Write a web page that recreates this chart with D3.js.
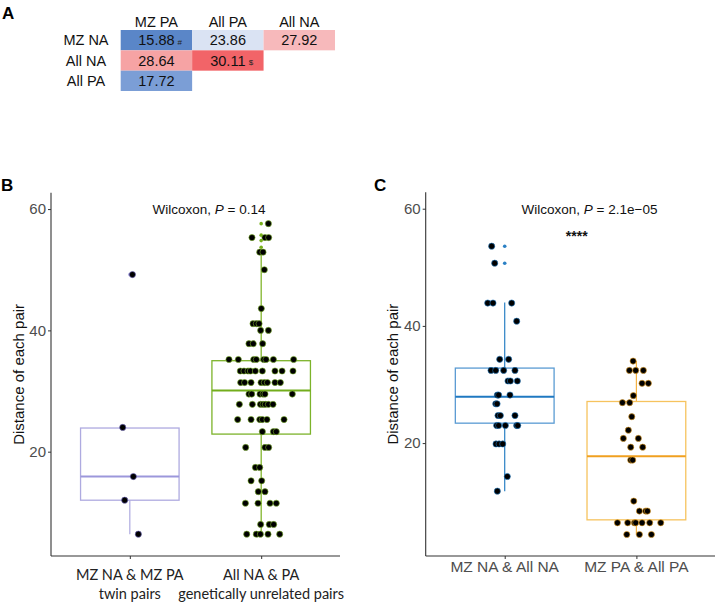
<!DOCTYPE html>
<html><head><meta charset="utf-8">
<script src="https://cdn.jsdelivr.net/npm/d3@7"></script>
<style>body{margin:0;background:#fff}svg{display:block}</style>
</head><body>
<svg id="c" width="715" height="602"></svg>
<script>
// ---------- Panel A data ----------
const tableCols = ["MZ PA", "All PA", "All NA"];
const tableRows = ["MZ NA", "All NA", "All PA"];
const tableValues = [[15.88, 23.86, 27.92], [28.64, 30.11, null], [17.72, null, null]];
const tableMarks = [["#", "", ""], ["", "$", ""], ["", "", ""]];
const tableColors = [["#5a86c8", "#dae3f3", "#f7b9bb"], ["#f6a3a4", "#f26468", null], ["#7b9ed6", null, null]];

// ---------- Panel B data ----------
const catsB = [["MZ NA & MZ PA", "twin pairs"], ["All NA & PA", "genetically unrelated pairs"]];
const yTicks = [20, 40, 60];
// box stats: [whiskerLo, q1, median, q3, whiskerHi]
const boxB = [[6.4, 12.0, 15.9, 23.9, 23.9], [6.3, 22.9, 30.1, 35.0, 52.9]];
const outliersB = [[49.2], [57.6, 55.7, 54.8, 53.7]];
const pointsB1 = [24.0, 15.9, 12.0, 6.4, 49.2];
const jitterB1 = [-0.054, 0.027, -0.039, 0.065, 0.02];
const pointsB2 = [57.6, 55.3, 55.3, 55.3, 52.9, 52.9, 50.0, 43.6, 41.1, 41.1, 41.1, 40.0, 40.0, 37.8, 37.8, 37.8,
  35.2, 35.2, 35.2, 35.2, 35.2, 35.2, 35.2, 35.2,
  33.3, 33.3, 33.3, 33.3, 33.3, 33.3, 33.3, 33.3, 33.3,
  31.4, 31.4, 31.4, 31.4, 31.4, 31.4, 31.4, 31.4,
  29.5, 29.5, 29.5, 29.5, 29.5, 29.5,
  27.8, 27.8, 27.8, 27.8, 27.8, 27.8, 27.8,
  25.3, 25.3, 25.3, 25.3, 25.3, 25.3,
  23.3, 23.3, 23.3, 20.7, 20.7, 20.7, 17.4, 17.4, 15.2, 15.2, 13.4, 13.4,
  11.5, 11.5, 11.5, 11.5, 8.0, 8.0, 8.0, 6.4, 6.4, 6.4, 6.4, 6.4];
const jitterB2 = [0.055, -0.070, 0.029, 0.057, -0.011, 0.014, 0.024, 0.001, -0.062, -0.037, -0.016, -0.004, 0.055, -0.093, -0.060, 0.011,
  -0.245, -0.174, -0.057, -0.037, 0.019, 0.037, 0.093, 0.247,
  -0.159, -0.131, -0.100, -0.082, -0.044, 0.009, 0.105, 0.159, 0.242,
  -0.156, -0.126, -0.077, -0.001, 0.024, 0.047, 0.105, 0.146,
  -0.093, -0.072, -0.009, 0.014, 0.029, 0.237,
  -0.166, -0.067, -0.006, 0.014, 0.032, 0.055, 0.090,
  -0.179, -0.077, -0.011, 0.009, 0.044, 0.174,
  0.009, 0.093, 0.115, -0.118, 0.029, 0.057, -0.044, -0.011, -0.077, 0.004, -0.022, 0.029,
  -0.120, -0.024, 0.067, 0.115, -0.004, 0.062, 0.095, -0.110, -0.037, -0.006, 0.052, 0.141];

// ---------- Panel C data ----------
const catsC = ["MZ NA & All NA", "MZ PA & All PA"];
const boxC = [[11.8, 23.4, 27.9, 32.8, 44.0], [4.4, 6.9, 17.75, 27.1, 34.0]];
const outliersC = [[53.6, 50.7], []];
const pointsC1 = [53.6, 50.7, 43.9, 43.9, 43.9, 40.8, 34.3, 34.3, 32.4, 32.4, 32.4, 32.4, 30.6, 30.6, 30.6,
  28.2, 28.2, 28.2, 26.7, 26.7, 24.7, 24.7, 24.7, 23.0, 23.0, 23.0, 23.0, 23.0, 19.85, 19.85, 19.85, 14.3, 11.8];
const jitterC1 = [-0.099, -0.076, -0.129, -0.089, 0.053, 0.091, -0.038, 0.030, -0.104, -0.068, -0.008, 0.078, 0.025, 0.043, 0.096,
  -0.056, -0.046, 0.040, -0.068, -0.058, -0.051, -0.033, 0.078, -0.061, -0.046, 0.005, 0.091, 0.099, -0.066, -0.043, -0.015, 0.020, -0.056];
const pointsC2 = [34.0, 32.4, 32.4, 32.4, 30.2, 30.2, 28.1, 26.9, 26.9, 24.5, 22.2, 20.8, 20.8, 19.3, 19.3, 17.1, 17.1,
  10.1, 8.4, 8.4, 8.4, 6.4, 6.4, 6.4, 6.4, 6.4, 6.4, 6.4, 4.4, 4.4, 4.4];
const jitterC2 = [-0.025, -0.053, -0.005, 0.053, 0.043, 0.091, -0.023, -0.106, -0.051, -0.035, -0.061, -0.099, 0.015, -0.043, 0.048, -0.043, -0.028,
  -0.020, 0.023, 0.071, 0.084, -0.144, -0.066, -0.015, -0.005, 0.043, 0.101, 0.185, -0.073, 0.023, 0.114];

const svg = d3.select("#c");
const HEL = "'Liberation Sans', Arial, sans-serif";

// ---------- Panel A ----------
svg.append("text").attr("x", 2).attr("y", 19).attr("font-family", HEL).attr("font-weight", "bold")
  .attr("font-size", 17).text("A");
const colX = d3.scaleBand().domain(tableCols).range([120.7, 335]);
const rowY = d3.scaleBand().domain(tableRows).range([30, 91]);
const gA = svg.append("g").attr("font-family", HEL);
tableCols.forEach(c => gA.append("text").attr("x", colX(c) + colX.bandwidth() / 2).attr("y", 26.5)
  .attr("text-anchor", "middle").attr("font-size", 14.5).attr("fill", "#111").text(c));
tableRows.forEach((r, i) => {
  gA.append("text").attr("x", 86).attr("y", rowY(r) + rowY.bandwidth() / 2 + 5.2)
    .attr("text-anchor", "middle").attr("font-size", 14.5).attr("fill", "#111").text(r);
  tableCols.forEach((c, j) => {
    const v = tableValues[i][j];
    if (v === null) return;
    gA.append("rect").attr("x", colX(c)).attr("y", rowY(r)).attr("width", colX.bandwidth())
      .attr("height", rowY.bandwidth()).attr("fill", tableColors[i][j]);
    const cx = colX(c) + colX.bandwidth() / 2, cy = rowY(r) + rowY.bandwidth() / 2 + 5.2;
    gA.append("text").attr("x", cx).attr("y", cy).attr("text-anchor", "middle")
      .attr("font-size", 14.5).attr("fill", "#111").text(v.toFixed(2));
    if (tableMarks[i][j]) {
      gA.append("text").attr("x", cx + 21).attr("y", cy - 0.5).attr("font-size", 8)
        .attr("fill", "#222").text(tableMarks[i][j]);
    }
  });
});

// ---------- helper for box panels ----------
function panel(opt) {
  const x = d3.scaleLinear().domain([0.4, 2.6]).range([opt.x0, opt.x0 + opt.w]);
  const y = d3.scaleLinear().domain(opt.yDomain).range([556, opt.yTop]);
  const g = svg.append("g");
  // axes
  const ya = g.append("g").attr("transform", `translate(${opt.x0},0)`)
    .call(d3.axisLeft(y).tickValues(yTicks).tickSize(3).tickPadding(2));
  ya.select(".domain").attr("stroke", "#333").attr("stroke-width", 1.1).attr("d", `M0,${y.range()[0]}V${y.range()[1]}`);
  ya.selectAll(".tick line").attr("stroke", "#333");
  ya.selectAll(".tick text").attr("font-family", HEL).attr("font-size", 15).attr("fill", "#4d4d4d");
  const xa = g.append("g").attr("transform", `translate(0,556)`)
    .call(d3.axisBottom(x).tickValues([1, 2]).tickSize(3).tickFormat(""));
  xa.select(".domain").attr("stroke", "#333").attr("stroke-width", 1.1).attr("d", `M${x.range()[0]},0H${x.range()[1]}`);
  xa.selectAll(".tick line").attr("stroke", "#333");
  // y title
  g.append("text").attr("transform", `translate(${opt.titleX},${(y.range()[0] + y.range()[1]) / 2}) rotate(-90)`)
    .attr("text-anchor", "middle").attr("font-family", HEL).attr("font-size", 15).attr("fill", "#111")
    .text("Distance of each pair");
  // boxes
  const bw = 0.375;
  opt.boxes.forEach((b, i) => {
    const c = i + 1, col = opt.colors[i];
    g.append("line").attr("x1", x(c)).attr("x2", x(c)).attr("y1", y(b[0])).attr("y2", y(b[1]))
      .attr("stroke", col.line).attr("stroke-width", 1.2);
    g.append("line").attr("x1", x(c)).attr("x2", x(c)).attr("y1", y(b[3])).attr("y2", y(b[4]))
      .attr("stroke", col.line).attr("stroke-width", 1.2);
    g.append("rect").attr("x", x(c - bw)).attr("y", y(b[3])).attr("width", x(c + bw) - x(c - bw))
      .attr("height", y(b[1]) - y(b[3])).attr("fill", "none").attr("stroke", col.box).attr("stroke-width", 1.3);
    g.append("line").attr("x1", x(c - bw)).attr("x2", x(c + bw)).attr("y1", y(b[2])).attr("y2", y(b[2]))
      .attr("stroke", col.median).attr("stroke-width", 2);
    opt.outliers[i].forEach(v => g.append("circle").attr("cx", x(c)).attr("cy", y(v)).attr("r", 1.8)
      .attr("fill", col.line));
  });
  opt.points.forEach((pts, i) => {
    const c = i + 1, col = opt.colors[i];
    pts.forEach((v, k) => g.append("circle").attr("cx", x(c + opt.jitter[i][k])).attr("cy", y(v)).attr("r", 3.1)
      .attr("fill", "#000").attr("stroke", col.halo).attr("stroke-width", 0.6));
  });
  return { x, y, g };
}

// ---------- Panel B ----------
svg.append("text").attr("x", 1).attr("y", 191).attr("font-family", HEL).attr("font-weight", "bold")
  .attr("font-size", 17).text("B");
const pB = panel({
  x0: 51, w: 289, yDomain: [2.8, 62.7], yTop: 192.7, titleX: 24,
  boxes: boxB, outliers: outliersB, points: [pointsB1, pointsB2], jitter: [jitterB1, jitterB2],
  colors: [{ box: "#aeaae0", median: "#9c97db", line: "#aeaae0", halo: "#6d66c0" },
           { box: "#7cb32a", median: "#73ad1c", line: "#78b01c", halo: "#7cb32a" }]
});
catsB.forEach((lines, i) => {
  lines.forEach((t, k) => pB.g.append("text").attr("x", pB.x(i + 1)).attr("y", 580 + k * 18.5)
    .attr("text-anchor", "middle").attr("font-family", "Lato, 'Open Sans', sans-serif").attr("font-size", 14.5)
    .attr("fill", "#222").text(t));
});
const wB = pB.g.append("text").attr("x", 209).attr("y", 214).attr("text-anchor", "middle")
  .attr("font-family", HEL).attr("font-size", 13.5).attr("fill", "#111");
wB.append("tspan").text("Wilcoxon, ");
wB.append("tspan").attr("font-style", "italic").text("P");
wB.append("tspan").text(" = 0.14");

// ---------- Panel C ----------
svg.append("text").attr("x", 374).attr("y", 191).attr("font-family", HEL).attr("font-weight", "bold")
  .attr("font-size", 17).text("C");
const pC = panel({
  x0: 425.7, w: 289.7, yDomain: [0.73, 62.8], yTop: 192.3, titleX: 398,
  boxes: boxC, outliers: outliersC, points: [pointsC1, pointsC2], jitter: [jitterC1, jitterC2],
  colors: [{ box: "#5a9bd3", median: "#1f78c1", line: "#2a80c4", halo: "#1f78c1" },
           { box: "#f6c35e", median: "#f0a020", line: "#f5b342", halo: "#e8a020" }]
});
catsC.forEach((t, i) => pC.g.append("text").attr("x", pC.x(i + 1)).attr("y", 572)
  .attr("text-anchor", "middle").attr("font-family", HEL).attr("font-size", 15.5)
  .attr("fill", "#4d4d4d").text(t));
const wC = pC.g.append("text").attr("x", 589.5).attr("y", 214).attr("text-anchor", "middle")
  .attr("font-family", HEL).attr("font-size", 13.5).attr("fill", "#111");
wC.append("tspan").text("Wilcoxon, ");
wC.append("tspan").attr("font-style", "italic").text("P");
wC.append("tspan").text(" = 2.1e\u221205");
pC.g.append("text").attr("x", 576.7).attr("y", 241).attr("text-anchor", "middle")
  .attr("font-family", HEL).attr("font-size", 14).attr("font-weight", "bold").attr("fill", "#111").text("****");
</script>
</body></html>
